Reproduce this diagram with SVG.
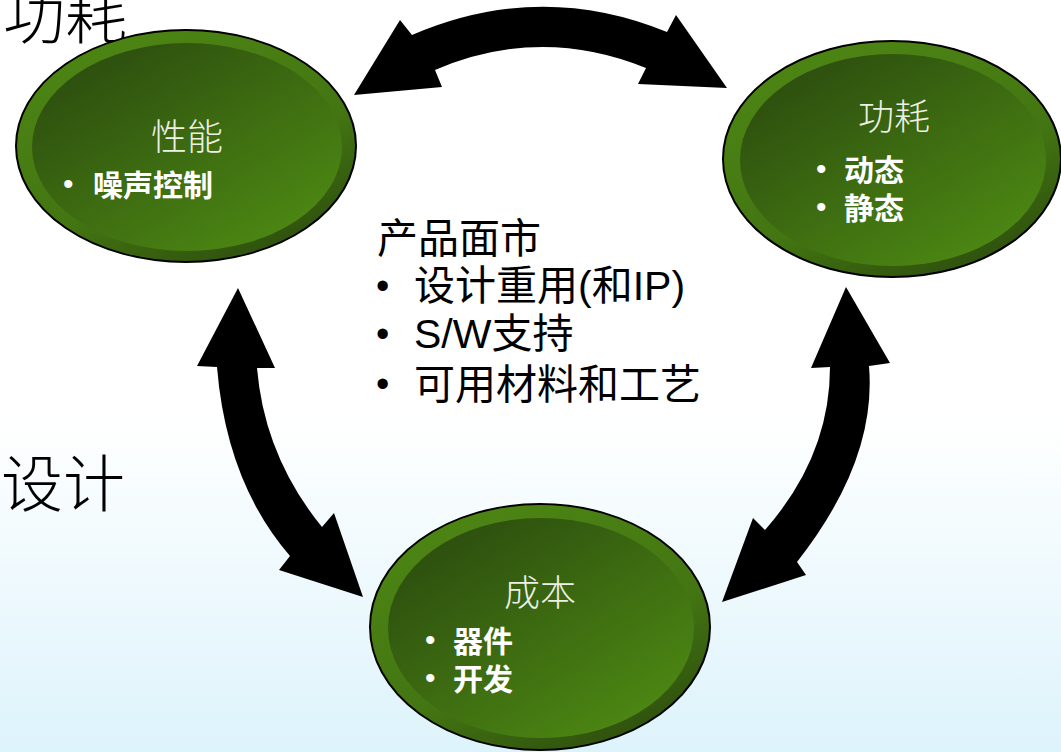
<svg xmlns="http://www.w3.org/2000/svg" width="1061" height="752" viewBox="0 0 1061 752">
<defs>
<linearGradient id="bg" x1="0" y1="0" x2="0" y2="1">
<stop offset="0.55" stop-color="#ffffff"/>
<stop offset="1" stop-color="#ddf3fb"/>
</linearGradient>
<linearGradient id="ring" x1="0.2" y1="0" x2="0.8" y2="1">
<stop offset="0" stop-color="#4d8614"/>
<stop offset="0.6" stop-color="#437512"/>
<stop offset="1" stop-color="#2c4b0d"/>
</linearGradient>
<linearGradient id="core" x1="0.15" y1="0.1" x2="0.85" y2="0.9">
<stop offset="0" stop-color="#2d4f0f"/>
<stop offset="1" stop-color="#4c8713"/>
</linearGradient>
<style>
.ring{fill:url(#ring);stroke:#000;stroke-width:2}
.core{fill:url(#core)}
.ttl{font-family:"Noto Sans CJK SC",sans-serif;font-weight:300;fill:#eef0e4;font-size:36px;text-anchor:middle}
.itm{font-family:"Liberation Sans","Noto Sans CJK SC",sans-serif;font-weight:bold;fill:#ffffff;font-size:30px}
.dot{font-family:"Liberation Sans",sans-serif;fill:#ffffff;font-size:30px}
.blk{font-family:"Liberation Sans","Noto Sans CJK SC",sans-serif;fill:#000;font-size:41px}
.bdot{font-family:"Liberation Sans",sans-serif;fill:#000;font-size:38px}
.big{font-family:"Noto Sans CJK SC",sans-serif;font-weight:300;fill:#000;font-size:62px}
.arr{fill:#000}
</style>
</defs>
<rect x="0" y="0" width="1061" height="752" fill="url(#bg)"/>
<text class="big" x="3" y="39">功耗</text>
<text class="big" x="1" y="507">设计</text>
<g id="connectors">
<path class="arr" d="M354,95 L400,20 L412,35 Q540,-20 667,32 L676,15 L727,88 L638,84 L646,68 Q540,25 435,70 L442,87 Z"/>
<path class="arr" d="M238,288 L275,368 L257,368 Q264.5,456.5 322,527 L334,513 L363,597 L279,570 L290,556 Q226.5,482.5 217,367 L197,366 Z"/>
<path class="arr" d="M846,287 L890,363 L869,366 Q877,460 797,562 L806,575 L722,602 L753,518 L765,530 Q830,456 830,367 L811,368 Z"/>
</g>
<g id="node-perf">
<ellipse class="ring" cx="186" cy="146" rx="170" ry="116"/>
<ellipse class="core" cx="187" cy="147" rx="155" ry="104"/>
<text class="ttl" x="187" y="150">性能</text>
<text class="dot" x="63" y="194">•</text>
<text class="itm" x="93" y="196">噪声控制</text>
</g>
<g id="node-power">
<ellipse class="ring" cx="892" cy="159" rx="169" ry="118"/>
<ellipse class="core" cx="893" cy="160" rx="153" ry="106"/>
<text class="ttl" x="894" y="130">功耗</text>
<text class="dot" x="816" y="179">•</text>
<text class="itm" x="844" y="181">动态</text>
<text class="dot" x="816" y="217">•</text>
<text class="itm" x="844" y="219">静态</text>
</g>
<g id="node-cost">
<ellipse class="ring" cx="540" cy="627" rx="170" ry="123"/>
<ellipse class="core" cx="541" cy="628" rx="153" ry="110"/>
<text class="ttl" x="540" y="606">成本</text>
<text class="dot" x="425" y="650">•</text>
<text class="itm" x="453" y="652">器件</text>
<text class="dot" x="425" y="688">•</text>
<text class="itm" x="453" y="690">开发</text>
</g>
<g id="center-text">
<text class="blk" x="377" y="253">产品面市</text>
<text class="bdot" x="376" y="299">•</text>
<text class="blk" x="414" y="300">设计重用(和IP)</text>
<text class="bdot" x="376" y="347">•</text>
<text class="blk" x="414" y="348">S/W支持</text>
<text class="bdot" x="376" y="397">•</text>
<text class="blk" x="414" y="399">可用材料和工艺</text>
</g>
</svg>
